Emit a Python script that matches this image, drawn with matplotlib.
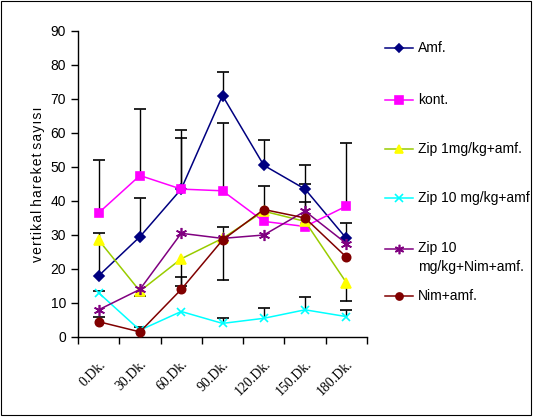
import numpy as np
import matplotlib.pyplot as plt
from matplotlib.lines import Line2D
from matplotlib.patches import Rectangle

# time points and series
times = ['0.Dk.', '30.Dk.', '60.Dk.', '90.Dk.', '120.Dk.', '150.Dk.', '180.Dk.']

amf = [18, 29.5, 43.5, 71, 50.5, 43.5, 29]
kont = [36.5, 47.5, 43.5, 43, 34, 32.5, 38.5]
zip1 = [28.5, 13.5, 23, 29, 37, 34, 16]
zip10 = [13, 2, 7.5, 4, 5.5, 8, 6]
zip10_nim = [8, 14, 30.5, 29, 30, 37, 27.5]
nim = [4.5, 1.5, 14, 28.5, 37.5, 35, 23.5]

# error bars (upper / lower)
amf_up = [12.5, 11.5, 17.5, 7, 7.5, 7, 4.5]
kont_up = [15.5, 19.5, 15, 20, 0, 0, 18.5]
zip1_up = [0, 0, 0, 0, 7.4, 5.7, 0]
zip1_lo = [0, 1.5, 8, 0, 0, 0, 5.5]
zip10_up = [0.5, 1, 0, 1.5, 3, 3.8, 2]
nim_up = [1.4, 0, 3.6, 3.8, 0, 10, 0]
nim_lo = [0, 0, 0, 11.7, 0, 0, 0]

series = [
    ('Amf.', amf, '#000080', 'D', '#000080', 5),
    ('kont.', kont, '#FF00FF', 's', '#FF00FF', 6),
    ('Zip 1mg/kg+amf.', zip1, '#99CC00', '^', '#FFFF00', 7),
    ('Zip 10 mg/kg+amf', zip10, '#00FFFF', 'x', '#00FFFF', 6),
    ('Zip 10\nmg/kg+Nim+amf.', zip10_nim, '#800080', (6, 2, 0), '#800080', 8),
    ('Nim+amf.', nim, '#800000', 'o', '#800000', 6),
]
errors = [
    (amf, amf_up, 1), (kont, kont_up, 1), (zip1, zip1_up, 1),
    (zip1, zip1_lo, -1), (zip10, zip10_up, 1), (nim, nim_up, 1), (nim, nim_lo, -1),
]

fig = plt.figure(figsize=(5.33, 4.17), dpi=100)
fig.patches.append(Rectangle((0.002, 0.004), 0.994, 0.993, transform=fig.transFigure,
                             fill=False, edgecolor='black', linewidth=0.8))
ax = fig.add_axes([78 / 533, 80 / 417, 289 / 533, 306 / 417])

x = np.arange(len(times))

# error bars: black vertical line with a cap at the end
for vals, err, sign in errors:
    v = np.array(vals, dtype=float)
    e = np.array(err, dtype=float)
    m = e > 0
    ends = v[m] + sign * e[m]
    ax.vlines(x[m], v[m], ends, color='black', linewidth=1, zorder=1)
    ax.plot(x[m], ends, linestyle='none', marker='_', markersize=8,
            markeredgewidth=1.2, color='black', zorder=1)

for label, vals, lc, mk, mc, ms in series:
    ax.plot(x, vals, color=lc, linewidth=1.1, marker=mk, markersize=ms,
            markerfacecolor=mc, markeredgecolor=mc, markeredgewidth=1.2, zorder=3)

ax.set_xlim(-0.5, len(times) - 0.5)
ax.set_ylim(0, 90)
ax.set_yticks(range(0, 91, 10))
ax.set_xticks(np.arange(-0.5, len(times)), [''] * (len(times) + 1))
ax.set_xticks(x, times, minor=True)
ax.tick_params(axis='x', which='major', direction='out', length=5, width=1)
ax.tick_params(axis='x', which='minor', length=0, pad=15)
ax.tick_params(axis='y', direction='out', length=5, width=1, labelsize=10)
for t in ax.get_xticklabels(minor=True):
    t.set_rotation(45)
    t.set_ha('right')
    t.set_rotation_mode('anchor')
    t.set_fontfamily('Liberation Serif')
    t.set_fontsize(10)
for t in ax.get_yticklabels():
    t.set_fontfamily('Liberation Sans')
for s in ['top', 'right']:
    ax.spines[s].set_visible(False)
ax.spines['left'].set_linewidth(1)
ax.spines['bottom'].set_linewidth(1)

ax.set_ylabel('v e r t i k a l   h a r e k e t   s a y ı s ı'.replace(' ', '\u200a').replace('\u200a\u200a\u200a', ' '),
              fontfamily='Liberation Sans', fontsize=10, labelpad=4)

# legend drawn at the right side of the chart
legend_y = [48, 100, 149, 198, 249, 296]
for (label, vals, lc, mk, mc, ms), ly in zip(series, legend_y):
    yf = 1 - ly / 417
    fig.add_artist(Line2D([385 / 533, 413 / 533], [yf, yf], color=lc, linewidth=1.1,
                          transform=fig.transFigure))
    fig.add_artist(Line2D([399 / 533], [yf], marker=mk, markersize=ms * 0.85,
                          markerfacecolor=mc, markeredgecolor=mc, markeredgewidth=1.2,
                          transform=fig.transFigure))
    multi = '\n' in label
    fig.text(418 / 533, yf + (8 / 417 if multi else 0), label, fontfamily='Liberation Sans',
             fontsize=10, va='top' if multi else 'center', linespacing=1.5,
             transform=fig.transFigure)

fig.savefig('out.png', dpi=100)
